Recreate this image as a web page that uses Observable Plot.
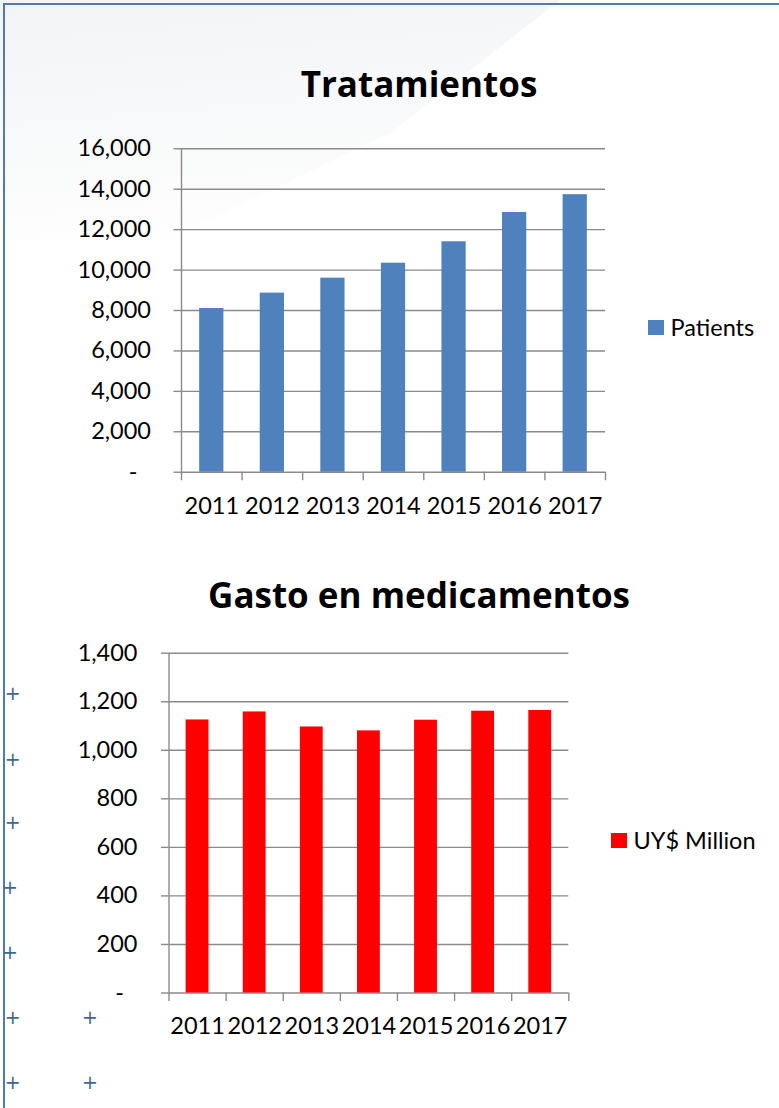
<!DOCTYPE html>
<html>
<head>
<meta charset="utf-8">
<script src="https://cdn.jsdelivr.net/npm/d3@7"></script>
<script src="https://cdn.jsdelivr.net/npm/@observablehq/plot@0.6"></script>
<style>
  html, body { margin: 0; padding: 0; background: #fff; }
  #page { position: relative; width: 779px; height: 1108px; overflow: hidden; background: #fff; font-family: Lato, "Open Sans", sans-serif; color: #000; }
  .swoosh { position: absolute; left: 0; top: 0; width: 560px; height: 240px;
    background: linear-gradient(175deg, #f3f4f6 0%, #f7f8f9 40%, rgba(255,255,255,0) 95%);
    clip-path: polygon(0 0, 100% 0, 70% 55%, 30% 100%, 0 100%); }
  .border-left { position: absolute; left: 3px; top: 3px; width: 2px; height: 1105px; background: #4f7bb0; }
  .border-top { position: absolute; left: 3px; top: 3px; width: 776px; height: 2px; background: #4f7bb0; }
  .title { position: absolute; left: 0; width: 838px; text-align: center; font-family: "Open Sans", Lato, sans-serif; font-weight: 700; font-size: 35px; line-height: 1; }
  .chart { position: absolute; left: 0; }
  .legend { position: absolute; display: flex; align-items: center; font-size: 23.5px; line-height: 1; }
  .legend .sw { width: 15.5px; height: 15px; margin-right: 7px; }
  .plus { position: absolute; color: #3f6891; font-size: 19px; line-height: 1; transform: translate(-50%, -50%); font-family: "DejaVu Sans", sans-serif; }
</style>
</head>
<body>
<div id="page">
  <div class="swoosh"></div>
  <div class="border-left"></div>
  <div class="border-top"></div>
  <div class="title" style="top:66px;">Tratamientos</div>
  <div class="title" style="top:577px;">Gasto en medicamentos</div>
  <div id="chart1" class="chart" style="top:120px;"></div>
  <div id="chart2" class="chart" style="top:630px;"></div>
  <div class="legend" style="left:648px; top:316px;"><div class="sw" style="background:#4f81bd"></div><span>Patients</span></div>
  <div class="legend" style="left:611px; top:829px;"><div class="sw" style="background:#ff0000"></div><span>UY$ Million</span></div>
</div>
<script>
// ---- data ----
const years = [2011, 2012, 2013, 2014, 2015, 2016, 2017];
const patients = [8100, 8860, 9600, 10340, 11400, 12850, 13730];
const spending = [1125, 1158, 1096, 1080, 1124, 1161, 1164];
const patientTicks = [0, 2000, 4000, 6000, 8000, 10000, 12000, 14000, 16000];
const spendingTicks = [0, 200, 400, 600, 800, 1000, 1200, 1400];
const categoryEdges = [2010.5, 2011.5, 2012.5, 2013.5, 2014.5, 2015.5, 2016.5, 2017.5];
const plusMarks = [[12.7, 693], [12.7, 759], [12.7, 822], [10, 887], [10, 952], [12.7, 1017], [90, 1017], [12.7, 1082], [90, 1082]];

const gridColor = "#8a8a8a";
const fmt = d => d === 0 ? "-\u2007" : d3.format(",")(d);

function barChart({values, ticks, color, height, marginTop, marginBottom, marginLeft, marginRight, yMax, tickPadding, xPadding}) {
  const data = years.map((year, i) => ({year, value: values[i]}));
  return Plot.plot({
    width: 779,
    height,
    marginTop, marginBottom, marginLeft, marginRight,
    style: {fontFamily: "Lato, 'Open Sans', sans-serif", fontSize: "23.5px", color: "#000", background: "transparent", overflow: "visible"},
    x: {domain: [categoryEdges[0], categoryEdges[categoryEdges.length - 1]], axis: null},
    y: {domain: [0, yMax], axis: null},
    marks: [
      Plot.gridY(ticks, {stroke: gridColor, strokeOpacity: 1, strokeWidth: 1.4}),
      Plot.rectY(data, {x1: d => d.year - 0.2, x2: d => d.year + 0.2, y1: 0, y2: "value", fill: color}),
      Plot.ruleX([categoryEdges[0]], {stroke: gridColor, strokeWidth: 1.4}),
      Plot.axisY(ticks, {tickSize: 7.5, tickPadding, tickFormat: fmt, stroke: gridColor, strokeWidth: 1.4, fill: "#000", label: null}),
      Plot.axisX(categoryEdges, {tickSize: 8.5, tickFormat: () => "", stroke: gridColor, strokeWidth: 1.4, label: null}),
      Plot.axisX(years, {tickSize: 0, tickPadding: xPadding, tickFormat: d => String(d), fill: "#000", label: null})
    ]
  });
}

document.getElementById("chart1").appendChild(barChart({
  values: patients, ticks: patientTicks, color: "#4f81bd",
  height: 420, marginTop: 28.3, marginBottom: 68.3, marginLeft: 181, marginRight: 174,
  yMax: 16000, tickPadding: 23, xPadding: 25
}));
document.getElementById("chart2").appendChild(barChart({
  values: spending, ticks: spendingTicks, color: "#ff0000",
  height: 420, marginTop: 22.7, marginBottom: 57.5, marginLeft: 168.5, marginRight: 210.7,
  yMax: 1400, tickPadding: 24, xPadding: 24
}));

const page = document.getElementById("page");
plusMarks.forEach(([x, y]) => {
  const s = document.createElement("div");
  s.className = "plus";
  s.style.left = x + "px";
  s.style.top = y + "px";
  s.textContent = "+";
  page.appendChild(s);
});
</script>
</body>
</html>
